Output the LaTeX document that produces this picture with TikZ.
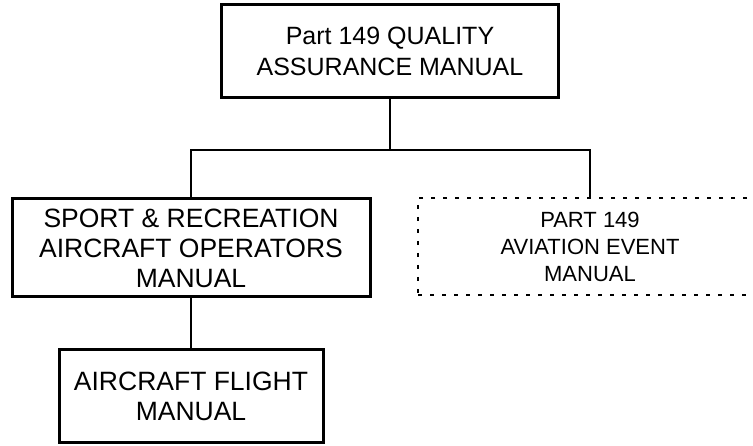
\documentclass[tikz,border=0pt]{standalone}
\usepackage{fontspec}
\setmainfont{Liberation Sans}
\begin{document}
\begin{tikzpicture}[x=1pt,y=1pt,
  box/.style={draw, line width=3pt, align=center, inner sep=0pt,
    font=\fontsize{25}{30.5}\selectfont},
  bigbox/.style={box, font=\fontsize{26.5}{30}\selectfont},
  dbox/.style={draw, line width=2pt, dash pattern=on 4pt off 8pt, align=center, inner sep=0pt,
    font=\fontsize{22}{27}\selectfont},
  conn/.style={line width=2pt}]
\useasboundingbox (0,0) rectangle (753,-446);
\node[box, minimum width=337pt, minimum height=93pt] (top) at (390,-51.5)
  {Part 149 QUALITY\\ASSURANCE MANUAL};
\node[bigbox, minimum width=358pt, minimum height=98pt] (left) at (191,-248)
  {SPORT \& RECREATION\\AIRCRAFT OPERATORS\\MANUAL};
\node[dbox, minimum width=344pt, minimum height=97pt] (right) at (590,-246.5)
  {PART 149\\AVIATION EVENT\\MANUAL};
\node[bigbox, minimum width=264pt, minimum height=93pt] (bottom) at (191,-396.5)
  {AIRCRAFT FLIGHT\\MANUAL};
\coordinate (hub) at (390,-150);
\draw[conn] (top.south) -- (hub);
\draw[conn] (hub) -| (left.north);
\draw[conn] (hub) -| (right.north);
\draw[conn] (left.south) -- (bottom.north);
\end{tikzpicture}
\end{document}
